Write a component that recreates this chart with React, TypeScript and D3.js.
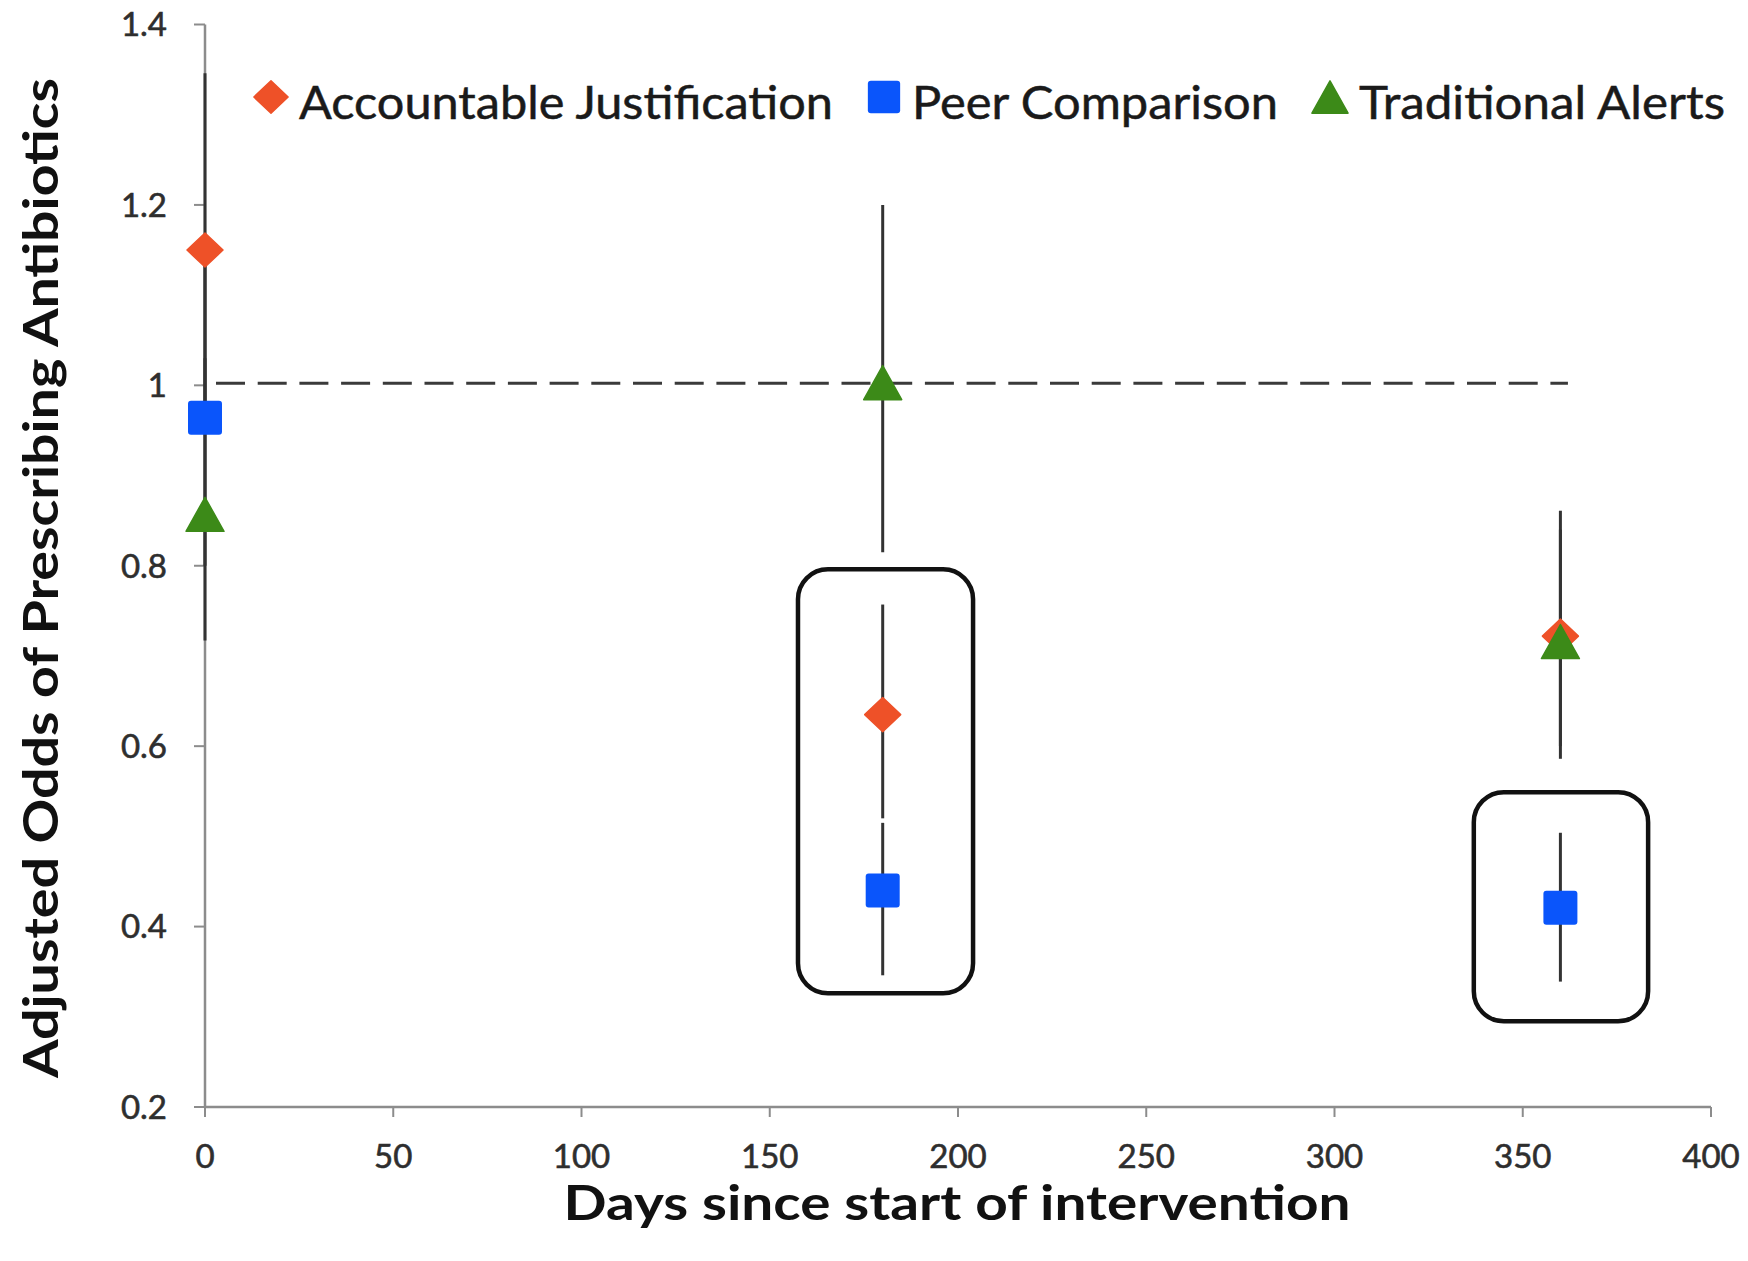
import React from "react";
import * as d3 from "d3";

// ---- data ----
const days = [0, 180, 360];
const seriesNames = ["Accountable Justification", "Peer Comparison", "Traditional Alerts"];
const ajValues = [1.15, 0.635, 0.722];
const ajLower = [0.98, 0.52, 0.6];
const ajUpper = [1.346, 0.757, 0.861];
const pcValues = [0.964, 0.44, 0.421];
const pcLower = [0.8, 0.346, 0.339];
const pcUpper = [1.16, 0.515, 0.504];
const taValues = [0.857, 1.003, 0.716];
const taLower = [0.717, 0.815, 0.586];
const taUpper = [1.03, 1.2, 0.84];
const xTicks = [0, 50, 100, 150, 200, 250, 300, 350, 400];
const yTicks = [0.2, 0.4, 0.6, 0.8, 1, 1.2, 1.4];
const referenceLine = { value: 1, from: 0, to: 362 };
// highlight boxes in data coordinates
const boxDayFrom = [157.5, 337];
const boxDayTo = [204, 383.3];
const boxValTop = [0.796, 0.549];
const boxValBottom = [0.326, 0.295];

const COLORS = ["#EE5128", "#0A55FB", "#3C8A18"];
const SHAPES = ["diamond", "square", "triangle"];

const W = 1748;
const H = 1261;

function Marker({ shape, cx, cy, color, s = 1 }: any) {
  if (shape === "diamond") {
    const w = 18 * s, h = 17 * s;
    return (
      <path
        d={`M${cx},${cy - h} L${cx + w},${cy} L${cx},${cy + h} L${cx - w},${cy} Z`}
        fill={color}
        stroke={color}
        strokeWidth={1.5}
        strokeLinejoin="round"
      />
    );
  }
  if (shape === "square") {
    const a = 17 * s;
    return <rect x={cx - a} y={cy - a} width={2 * a} height={2 * a} rx={3} fill={color} />;
  }
  const w = 19 * s, h = 17 * s;
  return (
    <path
      d={`M${cx},${cy - h} L${cx + w},${cy + h} L${cx - w},${cy + h} Z`}
      fill={color}
      stroke={color}
      strokeWidth={1.5}
      strokeLinejoin="round"
    />
  );
}

export default function App() {
  const x = d3.scaleLinear().domain([0, 400]).range([205, 1711]);
  const y = d3.scaleLinear().domain([0.2, 1.4]).range([1107, 24.5]);
  const fmt = d3.format("~g");

  const series = [
    { values: ajValues, lower: ajLower, upper: ajUpper },
    { values: pcValues, lower: pcLower, upper: pcUpper },
    { values: taValues, lower: taLower, upper: taUpper },
  ];

  const font = "Lato, 'Open Sans', sans-serif";
  const legend = [
    { mx: 271, tx: 299, tl: 534 },
    { mx: 884, tx: 912, tl: 366 },
    { mx: 1330, tx: 1359, tl: 366 },
  ];

  return (
    <svg
      width={W}
      height={H}
      style={{ position: "absolute", left: 0, top: 0, background: "#fff" }}
      fontFamily={font}
    >
      <rect x={0} y={0} width={W} height={H} fill="#fff" />

      {/* axes */}
      <line x1={x(0)} x2={x(0)} y1={y(1.4)} y2={y(0.2)} stroke="#8c8c8c" strokeWidth={2.5} />
      <line x1={x(0)} x2={x(400)} y1={y(0.2)} y2={y(0.2)} stroke="#8c8c8c" strokeWidth={2.5} />
      {yTicks.map((t) => (
        <g key={"yt" + t}>
          <line x1={x(0) - 11} x2={x(0)} y1={y(t)} y2={y(t)} stroke="#8c8c8c" strokeWidth={2} />
          <text
            x={167}
            y={y(t)}
            dy="0.36em"
            textAnchor="end"
            fontSize={33}
            fill="#2e2e2e"
            stroke="#2e2e2e"
            strokeWidth={0.6}
          >
            {fmt(t)}
          </text>
        </g>
      ))}
      {xTicks.map((t) => (
        <g key={"xt" + t}>
          <line x1={x(t)} x2={x(t)} y1={y(0.2)} y2={y(0.2) + 10} stroke="#8c8c8c" strokeWidth={2} />
          <text
            x={x(t)}
            y={1168}
            textAnchor="middle"
            fontSize={33}
            fill="#2e2e2e"
            stroke="#2e2e2e"
            strokeWidth={0.6}
          >
            {t}
          </text>
        </g>
      ))}

      {/* axis titles */}
      <text
        x={957}
        y={1220}
        textAnchor="middle"
        fontSize={48}
        fontWeight={700}
        fill="#111"
        textLength={787}
        lengthAdjust="spacingAndGlyphs"
      >
        Days since start of intervention
      </text>
      <text
        transform={`translate(58,578) rotate(-90)`}
        textAnchor="middle"
        fontSize={48}
        fontWeight={700}
        fill="#111"
        textLength={1000}
        lengthAdjust="spacingAndGlyphs"
      >
        Adjusted Odds of Prescribing Antibiotics
      </text>

      {/* reference line */}
      <line
        x1={x(referenceLine.from)}
        x2={x(referenceLine.to)}
        y1={y(referenceLine.value) - 2}
        y2={y(referenceLine.value) - 2}
        stroke="#3a3a3a"
        strokeWidth={3}
        strokeDasharray="29 12.7"
        strokeDashoffset={-11}
      />

      {/* highlight boxes */}
      {boxDayFrom.map((d, i) => (
        <rect
          key={"box" + i}
          x={x(d)}
          y={y(boxValTop[i])}
          width={x(boxDayTo[i]) - x(d)}
          height={y(boxValBottom[i]) - y(boxValTop[i])}
          rx={30}
          ry={30}
          fill="none"
          stroke="#111"
          strokeWidth={4.5}
        />
      ))}

      {/* error bars */}
      {series.map((s, si) =>
        days.map((d, di) => (
          <line
            key={`eb${si}-${di}`}
            x1={x(d)}
            x2={x(d)}
            y1={y(s.upper[di])}
            y2={y(s.lower[di])}
            stroke="#333"
            strokeWidth={3}
          />
        ))
      )}

      {/* markers */}
      {series.map((s, si) =>
        days.map((d, di) => (
          <Marker
            key={`mk${si}-${di}`}
            shape={SHAPES[si]}
            cx={x(d)}
            cy={y(s.values[di])}
            color={COLORS[si]}
          />
        ))
      )}

      {/* legend */}
      {seriesNames.map((name, i) => (
        <g key={"lg" + i}>
          <Marker shape={SHAPES[i]} cx={legend[i].mx} cy={97} color={COLORS[i]} s={0.95} />
          <text
            x={legend[i].tx}
            y={119}
            fontSize={46}
            fill="#1a1a1a"
            stroke="#1a1a1a"
            strokeWidth={0.5}
            textLength={legend[i].tl}
            lengthAdjust="spacingAndGlyphs"
          >
            {name}
          </text>
        </g>
      ))}
    </svg>
  );
}
